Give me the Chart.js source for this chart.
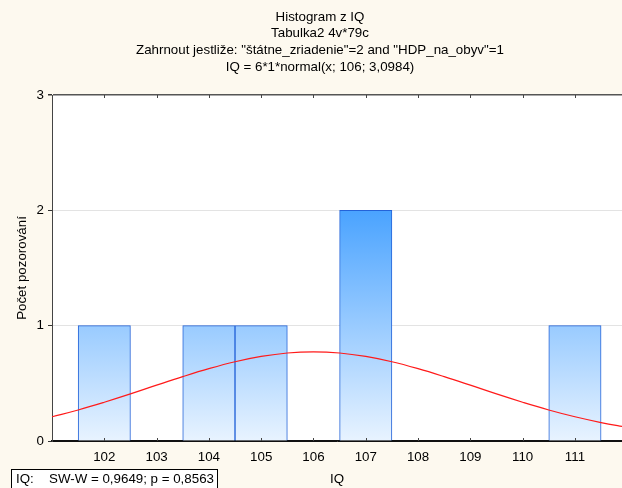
<!DOCTYPE html>
<html>
<head>
<meta charset="utf-8">
<script src="https://cdn.jsdelivr.net/npm/chart.js@4.4.1/dist/chart.umd.min.js"></script>
<style>
  html, body { margin: 0; padding: 0; background: #fdf9ef; }
  canvas { display: block; }
</style>
</head>
<body>
<canvas id="histIQ" width="622" height="488"></canvas>
<script>
// histogram counts per IQ value
const iqValues = [102, 104, 105, 107, 111];
const counts = [1, 1, 1, 2, 1];
const xTicks = [102, 103, 104, 105, 106, 107, 108, 109, 110, 111];

// expected normal curve
const curveX = [101, 101.5, 102, 102.5, 103, 103.5, 104, 104.5, 105, 105.5, 106, 106.5, 107, 107.5, 108, 108.5, 109, 109.5, 110, 110.5, 111, 111.5, 112];
const curveY = [0.210, 0.269, 0.336, 0.408, 0.484, 0.558, 0.627, 0.687, 0.733, 0.763, 0.773, 0.763, 0.733, 0.687, 0.627, 0.558, 0.484, 0.408, 0.336, 0.269, 0.210, 0.160, 0.119];

const titleLines = [
  "Histogram z IQ",
  "Tabulka2 4v*79c",
  "Zahrnout jestliže: \"štátne_zriadenie\"=2 and \"HDP_na_obyv\"=1",
  "IQ = 6*1*normal(x; 106; 3,0984)"
];
const swLabel = "IQ:";
const swText = "SW-W = 0,9649; p = 0,8563";

const FONT = 'Arial, "Liberation Sans", sans-serif';
Chart.defaults.font.family = FONT;
Chart.defaults.font.size = 13.33;
Chart.defaults.color = "#000";

const extras = {
  id: "extras",
  beforeDraw(chart) {
    const { ctx, chartArea } = chart;
    ctx.save();
    ctx.fillStyle = "#fdf9ef";
    ctx.fillRect(0, 0, chart.width, chart.height);
    ctx.fillStyle = "#ffffff";
    ctx.fillRect(chartArea.left, chartArea.top, chartArea.right - chartArea.left, chartArea.bottom - chartArea.top);
    ctx.restore();
  },
  afterDraw(chart) {
    const { ctx, chartArea } = chart;
    const xs = chart.scales.x;
    ctx.save();
    // small inner ticks top and bottom
    ctx.strokeStyle = "#444";
    ctx.lineWidth = 1;
    xTicks.forEach(v => {
      const px = Math.round(xs.getPixelForValue(v)) + 0.5;
      ctx.beginPath();
      ctx.moveTo(px, chartArea.bottom);
      ctx.lineTo(px, chartArea.bottom - 3);
      ctx.moveTo(px, chartArea.top);
      ctx.lineTo(px, chartArea.top + 3);
      ctx.stroke();
    });
    // titles
    ctx.fillStyle = "#000";
    ctx.font = "13.33px " + FONT;
    ctx.textAlign = "center";
    ctx.textBaseline = "middle";
    const ys = [17, 33.5, 50, 67];
    titleLines.forEach((t, i) => ctx.fillText(t, 320, ys[i]));
    // normality test box
    ctx.fillStyle = "#ffffff";
    ctx.fillRect(11, 469, 207, 21);
    ctx.strokeStyle = "#000";
    ctx.strokeRect(11.5, 469.5, 206, 21);
    ctx.fillStyle = "#000";
    ctx.textAlign = "left";
    ctx.fillText(swLabel, 16, 479.5);
    ctx.fillText(swText, 49, 479.5);
    ctx.restore();
  }
};

function barGradient(context) {
  const chart = context.chart;
  const area = chart.chartArea;
  if (!area) return "#8fc4ff";
  const ys = chart.scales.y;
  const g = chart.ctx.createLinearGradient(0, ys.getPixelForValue(2), 0, ys.getPixelForValue(0));
  g.addColorStop(0, "#4aa3ff");
  g.addColorStop(1, "#e8f3ff");
  return g;
}

new Chart(document.getElementById("histIQ"), {
  type: "bar",
  data: {
    datasets: [
      {
        type: "line",
        data: curveX.map((x, i) => ({ x: x, y: curveY[i] })),
        borderColor: "#ff1a1a",
        borderWidth: 1.2,
        pointRadius: 0,
        tension: 0.4,
        fill: false,
        order: 0
      },
      {
        type: "bar",
        data: iqValues.map((x, i) => ({ x: x, y: counts[i] })),
        backgroundColor: barGradient,
        borderColor: "#2463d8",
        borderWidth: 1,
        barPercentage: 1,
        categoryPercentage: 1,
        order: 1
      }
    ]
  },
  options: {
    responsive: false,
    animation: false,
    layout: { padding: { top: 95, left: 0, right: 0, bottom: 0 } },
    plugins: {
      legend: { display: false },
      tooltip: { enabled: false }
    },
    scales: {
      x: {
        type: "linear",
        min: 101,
        max: 111.9,
        offset: false,
        afterBuildTicks: scale => { scale.ticks = xTicks.map(v => ({ value: v })); },
        afterFit: scale => { scale.height = 47; },
        grid: { display: false, drawTicks: false, offset: false },
        border: { display: true, color: "#111", width: 1.2 },
        ticks: { padding: 8, color: "#000", maxRotation: 0, autoSkip: false },
        title: { display: true, text: "IQ", padding: { top: 0, bottom: 1 }, color: "#000" }
      },
      y: {
        min: 0,
        max: 3,
        afterFit: scale => { scale.width = 52; },
        ticks: { stepSize: 1, padding: 4, color: "#000" },
        grid: {
          drawTicks: true,
          tickLength: 4,
          tickColor: "#333",
          color: c => (c.tick && c.tick.value === 3 ? "#555" : c.tick && c.tick.value === 0 ? "#111" : "#e3e3e3"),
          lineWidth: c => (c.tick && c.tick.value === 3 ? 1.5 : 1)
        },
        border: { display: true, color: "#444", width: 1 },
        title: { display: true, text: "Počet pozorování", padding: { top: 14, bottom: 0 }, color: "#000" }
      }
    }
  },
  plugins: [extras]
});
</script>
</body>
</html>
